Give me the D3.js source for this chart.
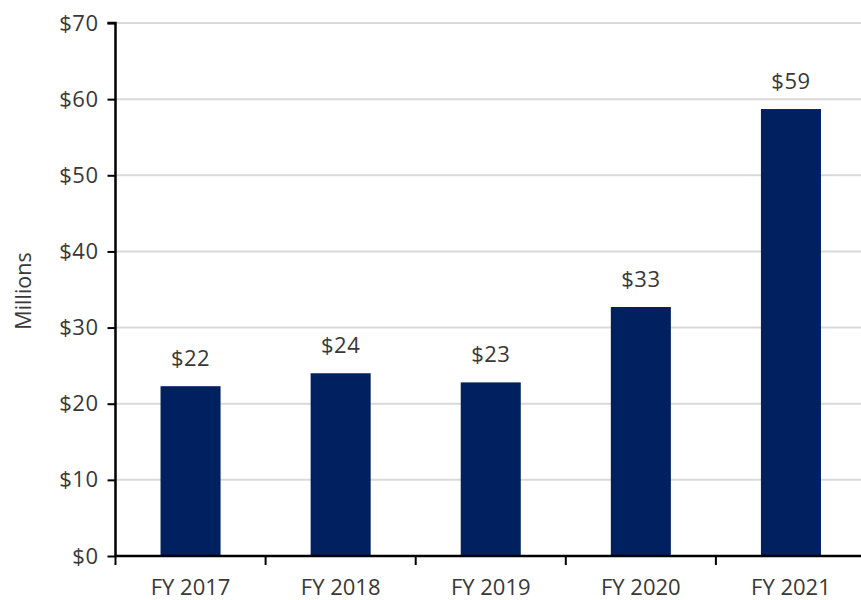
<!DOCTYPE html>
<html><head><meta charset="utf-8">
<script src="https://cdn.jsdelivr.net/npm/d3@7"></script>
<style>body{margin:0;background:#fff}svg{display:block}text{font-family:"Open Sans",sans-serif;fill:#383838}</style>
</head><body><svg id="c" width="861" height="600"></svg>
<script>
const categories = ["FY 2017","FY 2018","FY 2019","FY 2020","FY 2021"];
const values = [22.3, 24.0, 22.8, 32.7, 58.7];
const labels = ["$22","$24","$23","$33","$59"];
const yTicks = [0,10,20,30,40,50,60,70];

(function(){
const svg = d3.select("#c");
const mLeft = 115.5, mRight = 866, mTop = 23, mBottom = 556;
const x = d3.scaleBand().domain(categories).range([mLeft, mRight]).paddingInner(0.6).paddingOuter(0.3);
const y = d3.scaleLinear().domain([0,70]).range([mBottom, mTop]);

svg.append("g").selectAll("line").data(yTicks.filter(d=>d>0)).join("line")
  .attr("x1", mLeft).attr("x2", 861).attr("y1", d=>y(d)).attr("y2", d=>y(d))
  .attr("stroke", "#d9d9d9").attr("stroke-width", 2);

svg.append("g").selectAll("rect").data(categories).join("rect")
  .attr("x", d=>x(d)).attr("width", x.bandwidth())
  .attr("y", (d,i)=>y(values[i])).attr("height", (d,i)=>mBottom - y(values[i]))
  .attr("fill", "#002060");

svg.append("g").selectAll("text").data(categories).join("text")
  .attr("x", d=>x(d)+x.bandwidth()/2).attr("y", (d,i)=>y(values[i]) - 20)
  .attr("text-anchor","middle").attr("font-size", 22).attr("letter-spacing", 0.5).text((d,i)=>labels[i]);

const ya = svg.append("g").attr("transform", `translate(${mLeft},0)`)
  .call(d3.axisLeft(y).tickValues(yTicks).tickFormat(d=>"$"+d).tickSize(8).tickPadding(9));
ya.select(".domain").attr("stroke","#000").attr("stroke-width",2.5).attr("d", `M-8,${y(70)}H0V${mBottom}`);
ya.selectAll(".tick line").attr("stroke","#000").attr("stroke-width",2);
ya.selectAll(".tick text").attr("font-size",22).attr("letter-spacing",0.5).attr("font-family",'"Open Sans",sans-serif').attr("fill","#383838");

const step = x.step();
const boundaries = d3.range(1, categories.length).map(i => x(categories[i]) - step*x.paddingInner()/2);
svg.append("line").attr("x1", mLeft).attr("x2", 861).attr("y1", mBottom).attr("y2", mBottom)
  .attr("stroke","#000").attr("stroke-width",2.5);
svg.append("g").selectAll("line").data([mLeft].concat(boundaries)).join("line")
  .attr("x1", d=>d).attr("x2", d=>d).attr("y1", mBottom).attr("y2", mBottom+9)
  .attr("stroke","#000").attr("stroke-width",2);
svg.append("g").selectAll("text").data(categories).join("text")
  .attr("x", d=>x(d)+x.bandwidth()/2).attr("y", 595)
  .attr("text-anchor","middle").attr("font-size",22).text(d=>d);

svg.append("text").attr("transform","translate(31,291) rotate(-90)")
  .attr("text-anchor","middle").attr("font-size",21.5).text("Millions");
})();
</script></body></html>
